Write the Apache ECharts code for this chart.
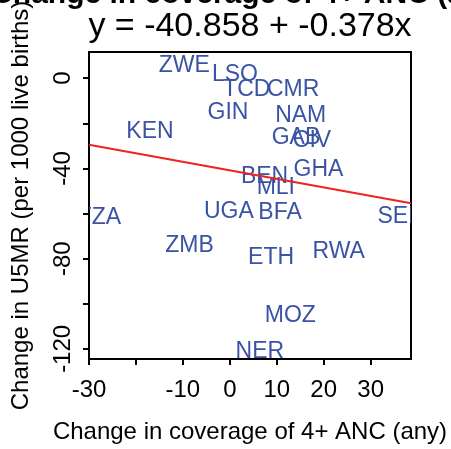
<!DOCTYPE html>
<html>
<head>
<meta charset="utf-8">
<script src="https://cdn.jsdelivr.net/npm/echarts@6/dist/echarts.min.js"></script>
<style>
html,body{margin:0;padding:0;background:#fff;}
#chart{width:451px;height:449px;}
</style>
</head>
<body>
<div id="chart"></div>
<script>
// ---- data ----
const countries = ['ZWE','LSO','TCD','CMR','GIN','NAM','KEN','GAB','CIV','GHA','BEN','MLI','TZA','UGA','BFA','SEN','ZMB','ETH','RWA','MOZ','NER'];
const ancChange = [-9.7, 1.1, 3.6, 13.5, -0.4, 15.1, -17.0, 14.1, 17.5, 18.9, 7.4, 9.8, -27.8, -0.2, 10.7, 36.5, -8.6, 8.8, 23.2, 12.9, 6.4];
const u5mrChange = [5.6, 1.5, -5.0, -5.0, -15.2, -16.5, -23.9, -26.2, -27.6, -40.7, -43.7, -48.4, -61.7, -59.3, -59.4, -61.6, -74.1, -79.7, -76.8, -105.3, -121.3];
const fitIntercept = -40.858;
const fitSlope = -0.378;
const xTicks = [-30, -20, -10, 0, 10, 20, 30];
const xTickLabels = [-30, -10, 0, 10, 20, 30];
const yTicks = [0, -20, -40, -60, -80, -100, -120];
const yTickLabels = [0, -40, -80, -120];
const xRange = [-30, 38.6];
const yRange = [-124.5, 11.6];

const FONT = "'Liberation Sans', Arial, Helvetica, sans-serif";
const labelData = countries.map((c, i) => [ancChange[i], u5mrChange[i], c]);
const fitLine = xRange.map(x => [x, fitIntercept + fitSlope * x]);

const chart = echarts.init(document.getElementById('chart'), null, {renderer: 'canvas'});
chart.setOption({
  animation: false,
  backgroundColor: '#fff',
  grid: {left: 89, right: 40, top: 50, bottom: 85.5, show: true, borderColor: '#000', borderWidth: 2, backgroundColor: '#fff'},
  graphic: [
    {type: 'text', x: 250, y: -5.5, silent: true,
     style: {text: 'Change in coverage of 4+ ANC (any)', align: 'center', verticalAlign: 'middle',
             font: 'bold 30px ' + FONT, fill: '#000'}},
    {type: 'text', x: 250, y: 27, silent: true,
     style: {text: 'y = -40.858 + -0.378x', align: 'center', verticalAlign: 'middle',
             font: '34px ' + FONT, fill: '#000'}}
  ],
  xAxis: {
    type: 'value', min: xRange[0], max: xRange[1], interval: 10,
    name: 'Change in coverage of 4+ ANC (any)', nameLocation: 'middle', nameGap: 61,
    nameTextStyle: {fontSize: 24, fontFamily: FONT, color: '#000'},
    axisLine: {show: true, onZero: false, lineStyle: {color: '#000', width: 2}},
    axisTick: {show: true, length: 6, lineStyle: {color: '#000', width: 2}, customValues: xTicks},
    axisLabel: {fontSize: 24, fontFamily: FONT, color: '#000', margin: 19, customValues: xTickLabels},
    splitLine: {show: false}
  },
  yAxis: {
    type: 'value', min: yRange[0], max: yRange[1], interval: 20,
    name: 'Change in U5MR (per 1000 live births)', nameLocation: 'middle', nameGap: 55.5,
    nameRotate: 90,
    nameTextStyle: {fontSize: 24, fontFamily: FONT, color: '#000'},
    axisLine: {show: true, onZero: false, lineStyle: {color: '#000', width: 2}},
    axisTick: {show: true, length: 6, lineStyle: {color: '#000', width: 2}, customValues: yTicks},
    axisLabel: {fontSize: 24, fontFamily: FONT, color: '#000', margin: 14, rotate: 90, customValues: yTickLabels},
    splitLine: {show: false}
  },
  series: [
    {
      type: 'custom', clip: true, data: labelData, z: 3,
      renderItem: function (params, api) {
        const p = api.coord([api.value(0), api.value(1)]);
        return {type: 'text', x: p[0], y: p[1],
          style: {text: countries[params.dataIndex], align: 'center', verticalAlign: 'middle',
                  font: '23px ' + FONT, fill: '#3a53a4'}};
      }
    },
    {
      type: 'line', data: fitLine, symbol: 'none', z: 4,
      lineStyle: {color: '#ee2222', width: 2}
    }
  ]
});
</script>
</body>
</html>
